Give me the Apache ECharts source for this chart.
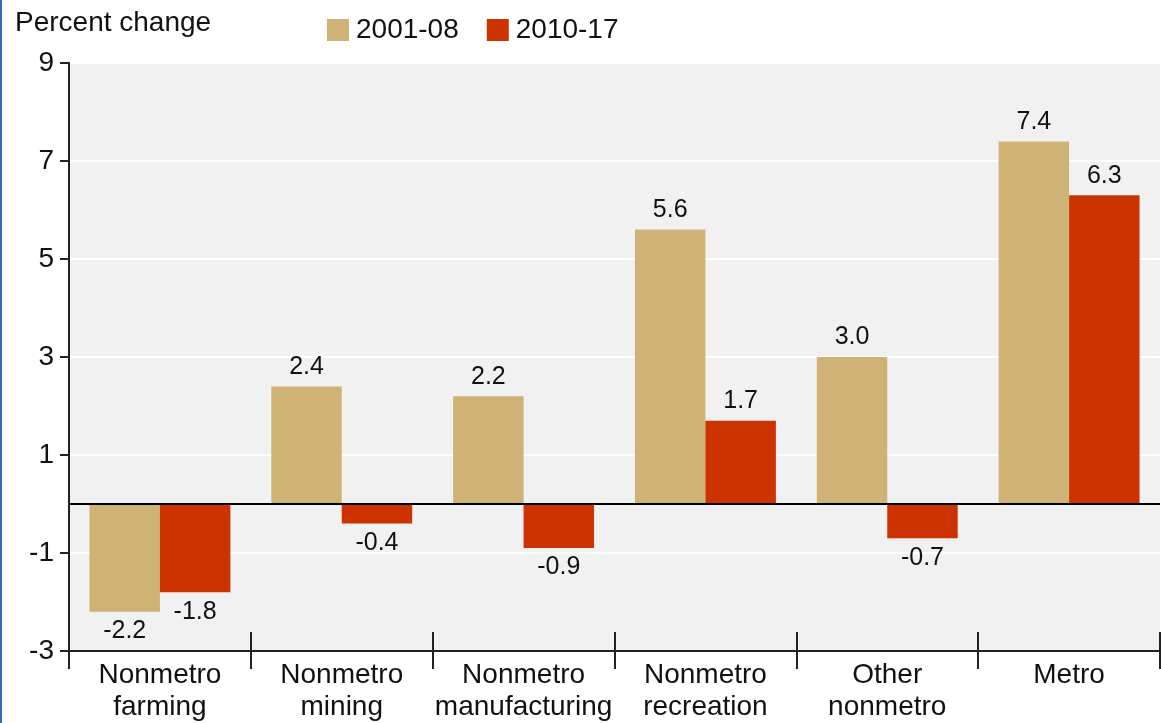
<!DOCTYPE html>
<html>
<head>
<meta charset="utf-8">
<script src="https://cdn.jsdelivr.net/npm/echarts@6/dist/echarts.min.js"></script>
<style>
html,body{margin:0;padding:0;background:#fff;}
#wrap{position:relative;width:1161px;height:723px;}
#edge{position:absolute;left:0;top:0;width:2px;height:723px;background:#2f6db5;z-index:5;}
#chart{width:1161px;height:723px;}
</style>
</head>
<body>
<div id="wrap"><div id="edge"></div><div id="chart"></div></div>
<script>
const categories = ['Nonmetro\nfarming', 'Nonmetro\nmining', 'Nonmetro\nmanufacturing', 'Nonmetro\nrecreation', 'Other\nnonmetro', 'Metro'];
const seriesNames = ['2001-08', '2010-17'];
const values2001_08 = [-2.2, 2.4, 2.2, 5.6, 3.0, 7.4];
const values2010_17 = [-1.8, -0.4, -0.9, 1.7, -0.7, 6.3];
const yMin = -3, yMax = 9, yStep = 2;

const FONT = 'Liberation Sans, Arial, sans-serif';
const colors = ['#CFB275', '#CC3300'];

function toData(vals) {
  return vals.map(v => ({
    value: v,
    label: { position: v < 0 ? 'bottom' : 'top' }
  }));
}

const chart = echarts.init(document.getElementById('chart'));
chart.setOption({
  animation: false,
  textStyle: { fontFamily: FONT },
  title: {
    text: 'Percent change', left: 10, top: 4,
    textStyle: { fontSize: 28, fontWeight: 'normal', color: '#111', fontFamily: FONT }
  },
  legend: {
    left: 322, top: 11, icon: 'rect', itemWidth: 22, itemHeight: 22, itemGap: 28,
    textStyle: { fontSize: 28, color: '#111', fontFamily: FONT, padding: [0, 0, 0, 2] },
    data: seriesNames
  },
  grid: { left: 69, right: 1, top: 63, bottom: 71, show: true, backgroundColor: '#f1f1f1', borderWidth: 0 },
  xAxis: [{
    type: 'category', data: categories, position: 'bottom',
    axisLine: { onZero: false, lineStyle: { color: '#222', width: 2 } },
    axisTick: { show: true, inside: false, length: 18, lineStyle: { color: '#222', width: 2 } },
    axisLabel: { fontSize: 28, color: '#111', fontFamily: FONT, margin: 8, lineHeight: 32, interval: 0 }
  }, {
    type: 'category', data: categories, position: 'bottom', offset: 0,
    axisLine: { show: false, onZero: false },
    axisTick: { show: true, inside: true, length: 19, lineStyle: { color: '#222', width: 2 } },
    axisLabel: { show: false }
  }],
  yAxis: {
    type: 'value', min: yMin, max: yMax, interval: yStep,
    axisLine: { show: true, lineStyle: { color: '#222', width: 2 } },
    axisTick: { show: true, inside: false, length: 9, lineStyle: { color: '#222', width: 2 } },
    axisLabel: { fontSize: 28, color: '#111', fontFamily: FONT, margin: 15 },
    splitLine: { show: true, lineStyle: { color: '#ffffff', width: 2 } }
  },
  series: [{
    name: seriesNames[0], type: 'bar', xAxisIndex: 0, data: toData(values2001_08),
    itemStyle: { color: colors[0] }, barGap: '0%', barCategoryGap: '22.5%',
    label: { show: true, fontSize: 25, color: '#111', fontFamily: FONT, distance: 7, formatter: p => p.value.toFixed(1) },
    markLine: {
      silent: true, symbol: ['none', 'none'], label: { show: false },
      lineStyle: { color: '#000', width: 2, type: 'solid' },
      data: [{ yAxis: 0 }]
    }
  }, {
    name: seriesNames[1], type: 'bar', xAxisIndex: 0, data: toData(values2010_17),
    itemStyle: { color: colors[1] }, barGap: '0%', barCategoryGap: '22.5%',
    label: { show: true, fontSize: 25, color: '#111', fontFamily: FONT, distance: 7, formatter: p => p.value.toFixed(1) }
  }]
});
</script>
</body>
</html>
